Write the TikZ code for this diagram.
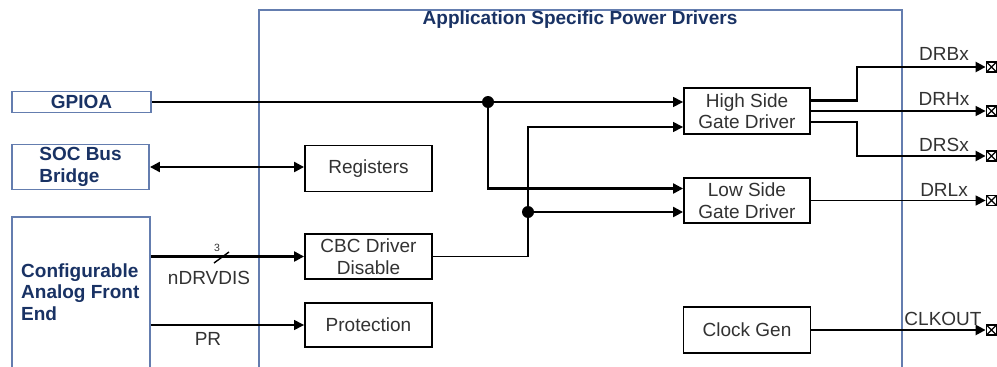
\documentclass[tikz,border=0pt]{standalone}
\usepackage{fontspec}
\setmainfont{Liberation Sans}
\usetikzlibrary{arrows.meta}
\definecolor{frameblue}{RGB}{100,125,175}
\definecolor{navy}{RGB}{25,50,100}
\definecolor{txtgray}{RGB}{50,50,50}

\begin{document}
\begin{tikzpicture}[x=1pt,y=-1pt,
  font=\fontsize{19}{21.5}\selectfont,
  blk/.style={draw=black, line width=1.9pt, fill=white, inner sep=0pt, align=center, text=txtgray},
  ext/.style={draw=frameblue, line width=1.9pt, inner sep=0pt, text=navy,
              font=\fontsize{19}{21.5}\selectfont\bfseries},
  tip/.style={-{Triangle[length=10pt,width=10pt]}},
  wire/.style={line width=1.5pt},
  bus/.style={line width=2.3pt},
  sig/.style={text=txtgray, inner sep=0pt},
  pad/.style={draw=black, line width=1.8pt, minimum size=10pt, inner sep=0pt,
    path picture={\draw[line width=1.2pt]
      (path picture bounding box.north west) -- (path picture bounding box.south east)
      (path picture bounding box.south west) -- (path picture bounding box.north east);}},
  dot/.style={circle, fill=black, inner sep=0pt, minimum size=12pt}
]
\useasboundingbox (0,0) rectangle (997,367);

% block frame
\draw[frameblue, line width=1.9pt] (259,370) -- (259,10) -- (902,10) -- (902,370);
\node[inner sep=0pt, text=navy, font=\fontsize{19}{21.5}\selectfont\bfseries] (title) at (580,20) {Application Specific Power Drivers};

% external blocks
\node[ext, minimum width=139, minimum height=21] (gp) at (81.5,102) {GPIOA};
\node[ext, minimum width=137, minimum height=45, align=left] (soc) at (80.5,167) {SOC Bus\\Bridge};
\node[ext, minimum width=138, minimum height=163] (afe) at (81,298.5) {};
\node[inner sep=0pt, anchor=west, align=left, text=navy,
      font=\fontsize{19}{21.5}\selectfont\bfseries] (afetxt) at (21,292) {Configurable\\Analog Front\\End};

% internal blocks
\node[blk, minimum width=127, minimum height=46] (reg) at (368.5,168.5) {Registers};
\node[blk, minimum width=127, minimum height=45] (cbc) at (368.5,256.5) {CBC Driver\\Disable};
\node[blk, minimum width=127, minimum height=44] (prot) at (368.5,325) {Protection};
\node[blk, minimum width=126, minimum height=46] (hs) at (747,111) {High Side\\Gate Driver};
\node[blk, minimum width=126, minimum height=45] (ls) at (747,200.5) {Low Side\\Gate Driver};
\node[blk, minimum width=127, minimum height=46] (cg) at (747,330) {Clock Gen};

% output pads
\node[pad] (pB) at (991.5,67) {};
\node[pad] (pH) at (991.5,111) {};
\node[pad] (pS) at (991.5,156) {};
\node[pad] (pL) at (991.5,200.5) {};
\node[pad] (pC) at (991.5,330) {};

% junctions
\coordinate (j1) at (488,102);
\coordinate (j2) at (528,212);

% GPIOA fan-out
\draw[wire,tip] (gp.east) -- (gp.east -| hs.west);
\draw[bus,tip] (j1) |- ([yshift=12pt]ls.west);

% CBC disable fan-out
\draw[wire] (cbc.east) -| (j2);
\draw[wire,tip] (j2) |- ([yshift=-16pt]hs.west);
\draw[bus,tip] (j2) -- (j2 -| ls.west);

\node[dot] (d1) at (j1) {};
\node[dot] (d2) at (j2) {};

% bus bridge
\draw[bus,{Triangle[length=10pt,width=10pt]}-{Triangle[length=10pt,width=10pt]}] (soc.east) -- (soc.east -| reg.west);

% analog front end signals
\draw[bus,tip] (afe.east |- cbc.west) -- (cbc.west);
\draw[line width=1.4pt] (214,263) -- (229,252);
\node[sig, font=\fontsize{10.5}{12}\selectfont] (bw) at (217,248) {3};
\node[sig] (ndrv) at (209,277.5) {nDRVDIS};
\draw[wire,tip] (afe.east |- prot.west) -- (prot.west);
\node[sig] (prl) at (208,338.5) {PR};

% driver outputs
\draw[bus,tip] ([yshift=10.5pt]hs.east) -- ++(46,0) |- (pB.west);
\draw[wire,tip] (hs.east) -- (pH.west);
\draw[bus,tip] ([yshift=-11pt]hs.east) -- ++(46,0) |- (pS.west);
\draw[wire,tip] (ls.east) -- (pL.west);
\draw[bus,tip] (cg.east) -- (pC.west);

\node[sig] (lB) at (944,54) {DRBx};
\node[sig] (lH) at (944,99) {DRHx};
\node[sig] (lS) at (944,144.5) {DRSx};
\node[sig] (lL) at (944,189.5) {DRLx};
\node[sig] (lC) at (943,318.5) {CLKOUT};
\end{tikzpicture}
\end{document}
